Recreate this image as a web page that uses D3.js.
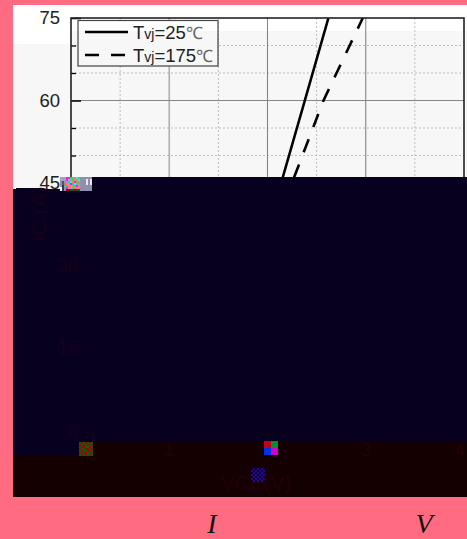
<!DOCTYPE html>
<html><head><meta charset="utf-8"><script src="https://cdn.jsdelivr.net/npm/d3@7"></script>
<style>html,body{margin:0;padding:0;background:#ff6b81}svg{display:block}text{font-family:"Liberation Sans",Arial,sans-serif}</style></head>
<body><div id="c"></div>
<script>
const xMajor=[0,1,2,3,4];
const xMinor=[0.5,1.5,2.5,3.5];
const yMajor=[0,15,30,45,60,75];
const yMinor=[5,10,20,25,35,40,50,55,65,70];
const solidI=[46,60,75];
const solidV=[2.155,2.38,2.62];
const dashI=[46,60,75];
const dashV=[2.27,2.57,2.97];
const legendLabels=[["T","vj","=25","℃"],["T","vj","=175","℃"]];
const xLabel="VCE(V)", yLabel="IC (A)";
const footer=["I","V"];

const W=467,H=539;
const svg=d3.select("#c").append("svg").attr("width",W).attr("height",H);
const L=71,R=464,T=18,B=430.5;
const x=d3.scaleLinear().domain([0,4]).range([L,L+98.25*4]);
const y=d3.scaleLinear().domain([0,75]).range([B,T]);

svg.append("rect").attr("x",13).attr("y",5).attr("width",W-13).attr("height",492).attr("fill","#fff");

const plot=svg.append("g");
plot.selectAll(".gx").data(xMinor).join("line").attr("x1",d=>x(d)).attr("x2",d=>x(d)).attr("y1",T).attr("y2",B)
  .attr("stroke","#c4c4c4").attr("stroke-width",1).attr("stroke-dasharray","2 2");
plot.selectAll(".gy").data(yMinor).join("line").attr("x1",L).attr("x2",R).attr("y1",d=>y(d)).attr("y2",d=>y(d))
  .attr("stroke","#c4c4c4").attr("stroke-width",1).attr("stroke-dasharray","2 2");
plot.selectAll(".mx").data(xMajor.slice(1,4)).join("line").attr("x1",d=>x(d)).attr("x2",d=>x(d)).attr("y1",T).attr("y2",B)
  .attr("stroke",(d,i)=>i==0?"#b5b5b5":"#8a8a8a").attr("stroke-width",(d,i)=>i==0?1.6:1.1);
plot.selectAll(".my").data(yMajor.slice(1,5)).join("line").attr("x1",L).attr("x2",R).attr("y1",d=>y(d)).attr("y2",d=>y(d))
  .attr("stroke","#8a8a8a").attr("stroke-width",1.1);

const line=d3.line().x(d=>x(d[0])).y(d=>y(d[1]));
plot.append("path").attr("d",line(d3.zip(solidV,solidI))).attr("fill","none").attr("stroke","#000").attr("stroke-width",2.6);
plot.append("path").attr("d",line(d3.zip(dashV,dashI))).attr("fill","none").attr("stroke","#000").attr("stroke-width",2.6).attr("stroke-dasharray","14 13");

const axMinor=d3.axisLeft(y).tickValues(yMinor).tickSize(-5).tickFormat("");
const gm=svg.append("g").attr("transform",`translate(${L},0)`).call(axMinor);
gm.select(".domain").remove();
gm.selectAll("line").attr("stroke","#000").attr("stroke-width",1.3);
const axMajor=d3.axisLeft(y).tickValues(yMajor.slice(3)).tickSize(-10).tickPadding(11);
const ga=svg.append("g").attr("transform",`translate(${L},0)`).call(axMajor);
ga.select(".domain").remove();
ga.selectAll("line").attr("stroke","#000").attr("stroke-width",1.5);
ga.selectAll("text").attr("font-size",18.5).attr("fill","#222").style("font-family",'"Liberation Sans"').attr("dy","0.3em");
svg.append("rect").attr("x",L).attr("y",T).attr("width",R-L).attr("height",B-T).attr("fill","none").attr("stroke","#222").attr("stroke-width",1.6);

// legend
const lg=svg.append("g");
lg.append("rect").attr("x",78).attr("y",20.5).attr("width",140).attr("height",45.5).attr("fill","#fff").attr("stroke","#444").attr("stroke-width",1.2);
[[32,null],[55,"14 12"]].forEach(([ly,da],i)=>{
  lg.append("line").attr("x1",85).attr("x2",128).attr("y1",ly).attr("y2",ly).attr("stroke","#000").attr("stroke-width",2.4).attr("stroke-dasharray",da);
  const t=lg.append("text").attr("x",133).attr("y",ly+6.5).attr("font-size",18.5).attr("fill","#222");
  t.append("tspan").text(legendLabels[i][0]);
  t.append("tspan").attr("font-size",14).text(legendLabels[i][1]);
  t.append("tspan").text(legendLabels[i][2]);
  t.append("tspan").attr("fill","#666").attr("font-size",17).text(legendLabels[i][3]);
});
// faint band over upper area
svg.append("path").attr("d","M13 44H71V31H467V190H13Z").attr("fill","#000").attr("opacity",0.03);

// dark damaged blocks
const dark="#08001f", red="#140000";
svg.append("path").attr("d","M13 189H92V177H467V442H93V456H13Z").attr("fill",dark);
svg.append("rect").attr("x",16).attr("y",188).attr("width",22).attr("height",2).attr("fill",dark);
svg.append("rect").attr("x",13).attr("y",455).attr("width",454).attr("height",42).attr("fill",red);
svg.append("rect").attr("x",79).attr("y",442).attr("width",388).attr("height",14).attr("fill",red);

// dim labels
const dim=svg.append("g").attr("fill","#17001a").attr("font-size",18.5);
dim.selectAll(".dy").data(yMajor.slice(0,3)).join("text").attr("x",78).attr("y",d=>y(d)+6).attr("text-anchor","end").text(d=>d);
const dimx=svg.append("g").attr("fill","#220008").attr("font-size",18.5);
dimx.selectAll(".dx").data(xMajor.slice(1)).join("text").attr("x",d=>Math.min(x(d),460)).attr("y",456).attr("text-anchor","middle").text(d=>d);
dimx.append("text").attr("x",256).attr("y",490).attr("text-anchor","middle").attr("font-size",21).text(xLabel);
dim.append("text").attr("transform","translate(46,214) rotate(-90)").attr("text-anchor","middle").attr("font-size",21).text(yLabel);

// coloured artefact cells
function cells(x0,y0,cw,ch,rows){rows.forEach((r,j)=>r.forEach((c,i)=>{
  svg.append("rect").attr("x",x0+i*cw).attr("y",y0+j*ch).attr("width",cw).attr("height",ch).attr("fill",c);}));}
const g="#006400",rd="#a00010";
cells(79,442,2,2,[
 [g,rd,g,rd,g,rd,g],[rd,g,rd,g,rd,g,rd],[g,rd,rd,g,g,rd,g],[rd,g,g,rd,rd,g,rd],[g,rd,g,g,rd,rd,g],[rd,g,rd,rd,g,g,rd],[g,rd,g,rd,g,rd,g]]);
cells(264,441,7,7,[["#c00018","#009030"],["#0030e0","#d000d0"]]);
const b="#2000b0",n="#100010";
cells(251,468,2,2,[[n,b,n,b,n,b,n],[b,n,b,n,b,n,b],[n,b,n,b,n,b,n],[b,n,b,n,b,n,b],[n,b,n,b,n,b,n],[b,n,b,n,b,n,b],[n,b,n,b,n,b,n]]);
const m="#f020e0",gr="#20e070",o="#ff8040",cy="#40e0f0",pk="#ff70c0",dg="#006030",gy="#8f8fb0",lg2="#a0a0b8",w="#e8e8f4";
cells(60,177,2,2,[
 [lg2,lg2,lg2,m,m,gr,gr,o,cy,gr,gy,gy,gy,gy,gy,gy],
 [lg2,lg2,lg2,m,cy,pk,gr,pk,o,cy,gy,gy,gy,w,gy,w],
 [gy,"#555",gy,pk,gr,cy,o,m,gr,o,gy,gy,gy,w,gy,w],
 [gy,"#555",gy,o,pk,m,gr,cy,pk,gr,gy,gy,gy,w,gy,w],
 [gy,"#336",gy,gr,o,pk,o,gr,m,pk,gy,gy,gy,gy,gy,gy],
 ["#fff","#336",gy,m,pk,pk,gr,o,pk,o,gy,gy,gy,gy,gy,gy],
 ["#fff","#336",gy,rd,rd,dg,dg,rd,dg,dg,gy,gy,gy,gy,gy,gy]]);

// footer
const ft=svg.append("g").attr("fill","#111").attr("font-size",28).style("font-style","italic");
ft.selectAll("text").data(footer).join("text").attr("x",(d,i)=>[212,424][i]).attr("y",533).attr("text-anchor","middle")
  .style("font-family",'"Liberation Serif",serif').text(d=>d);
</script></body></html>
